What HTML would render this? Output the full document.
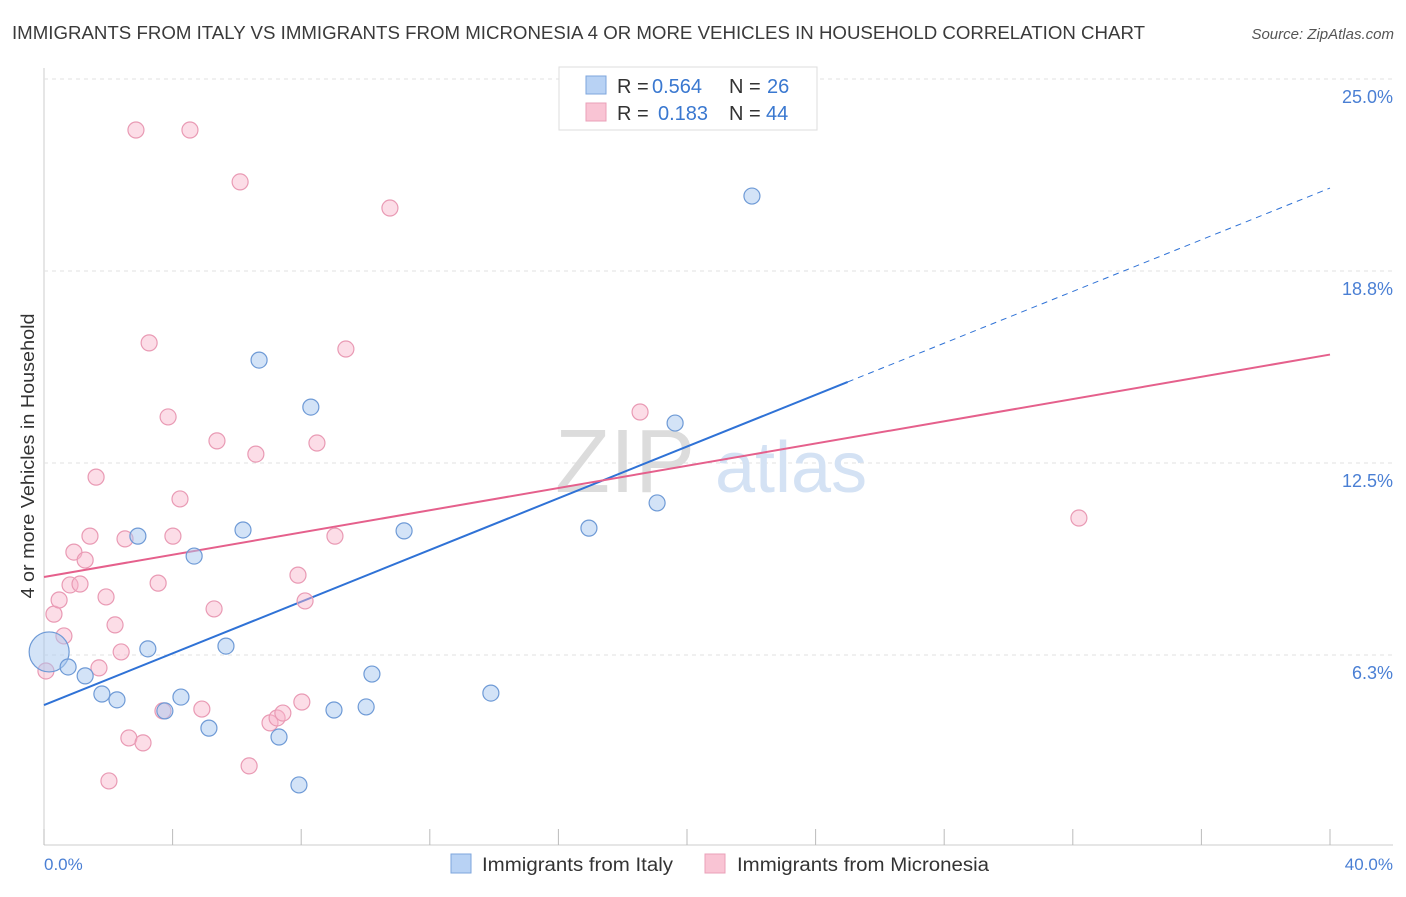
<!DOCTYPE html>
<html><head><meta charset="utf-8"><style>
body{margin:0;background:#fff;font-family:"Liberation Sans",Arial,sans-serif}
svg text{font-family:"Liberation Sans",Arial,sans-serif}
</style></head><body>
<svg id="chart" width="1406" height="892" viewBox="0 0 1406 892" xmlns="http://www.w3.org/2000/svg">
<text x="12" y="39" font-size="18" fill="#3a3a3a" textLength="1133" lengthAdjust="spacingAndGlyphs">IMMIGRANTS FROM ITALY VS IMMIGRANTS FROM MICRONESIA 4 OR MORE VEHICLES IN HOUSEHOLD CORRELATION CHART</text>
<text x="1394" y="39" font-size="15" fill="#555" text-anchor="end" font-style="italic">Source: ZipAtlas.com</text>
<g id="grid"></g>
<text x="555" y="492" font-size="90" fill="#dcdcdc" font-family="Liberation Serif">ZIP</text>
<text x="715" y="492" font-size="72" fill="#d4e2f4">atlas</text>
<g id="trends"></g>
<g id="points"></g>
<text transform="translate(34,456) rotate(-90)" font-size="18" fill="#333" text-anchor="middle" textLength="285" lengthAdjust="spacingAndGlyphs">4 or more Vehicles in Household</text>
<text x="44" y="870" font-size="17" fill="#4a7fd4">0.0%</text>
<text x="1393" y="870" font-size="17" fill="#4a7fd4" text-anchor="end">40.0%</text>
<g>
<rect x="559" y="67" width="258" height="63" fill="#fff" stroke="#ddd"/>
<rect x="586" y="76" width="20" height="18" fill="#b8d2f4" stroke="#7ea6dc"/>
<rect x="586" y="103" width="20" height="18" fill="#f9c4d4" stroke="#eaa0b8"/>
<text x="617" y="93" font-size="20" fill="#333">R =</text>
<text x="652" y="93" font-size="20" fill="#3a78d0">0.564</text>
<text x="729" y="93" font-size="20" fill="#333">N =</text>
<text x="767" y="93" font-size="20" fill="#3a78d0">26</text>
<text x="617" y="120" font-size="20" fill="#333">R =</text>
<text x="658" y="120" font-size="20" fill="#3a78d0">0.183</text>
<text x="729" y="120" font-size="20" fill="#333">N =</text>
<text x="766" y="120" font-size="20" fill="#3a78d0">44</text>
</g>
<g>
<rect x="451" y="854" width="20" height="19" fill="#b8d2f4" stroke="#7ea6dc"/>
<text x="482" y="871" font-size="19" fill="#333" textLength="191" lengthAdjust="spacingAndGlyphs">Immigrants from Italy</text>
<rect x="705" y="854" width="20" height="19" fill="#f9c4d4" stroke="#eaa0b8"/>
<text x="737" y="871" font-size="19" fill="#333" textLength="252" lengthAdjust="spacingAndGlyphs">Immigrants from Micronesia</text>
</g>
</svg>
<script>
const yTicks=[6.3,12.5,18.8,25.0];
const xTickCount=10;
const italyX=[0.16,0.75,1.28,1.80,2.27,2.92,3.23,3.76,4.26,4.67,5.13,5.66,6.19,6.69,7.31,7.93,8.30,9.02,10.02,10.20,11.20,13.90,16.95,19.07,19.63,22.02];
const italyY=[6.35,5.86,5.57,4.98,4.79,10.12,6.45,4.43,4.88,9.47,3.87,6.54,10.32,15.85,3.58,2.02,14.32,4.46,4.56,5.63,10.29,5.01,10.38,11.20,13.80,21.19];
const microX=[0.06,0.31,0.47,0.62,0.81,0.93,1.12,1.28,1.43,1.62,1.71,1.93,2.02,2.21,2.40,2.52,2.64,2.86,3.08,3.27,3.55,3.70,3.86,4.01,4.23,4.54,4.91,5.29,5.38,6.10,6.38,6.59,7.03,7.25,7.43,7.90,8.02,8.12,8.49,9.05,9.39,10.76,18.54,32.19];
const microY=[5.73,7.58,8.04,6.87,8.53,9.60,8.56,9.34,10.12,12.04,5.83,8.14,2.15,7.23,6.35,10.03,3.55,23.34,3.39,16.41,8.59,4.43,14.00,10.12,11.33,23.34,4.49,7.75,13.22,21.65,2.64,12.79,4.04,4.20,4.36,8.85,4.72,8.01,13.15,10.12,16.21,20.80,14.16,10.71];
const italyTrend=[4.62,21.45];
const microTrend=[8.79,16.03];
const NS="http://www.w3.org/2000/svg";
const X=v=>44+v*(1286/40), Y=v=>847-v*30.72;
function mk(tag,attrs,parent){const e=document.createElementNS(NS,tag);for(const k in attrs)e.setAttribute(k,attrs[k]);parent.appendChild(e);return e;}
const grid=document.getElementById('grid');
mk('line',{x1:44,y1:845,x2:1393,y2:845,stroke:'#ccc'},grid);
mk('line',{x1:44,y1:68,x2:44,y2:845,stroke:'#ccc'},grid);
mk('line',{x1:44,y1:79,x2:1393,y2:79,stroke:'#e2e2e2','stroke-dasharray':'4,4'},grid);
yTicks.forEach(t=>{
 const y=Y(t>24?25:t*(t===6.3?6.25/6.3:t===18.8?18.75/18.8:1));
 const l=mk('line',{x1:44,y1:y,x2:1393,y2:y,stroke:'#e2e2e2','stroke-dasharray':'4,4'},grid);
 
 
 const tx=mk('text',{x:1393,y:y+24,'font-size':18,fill:'#4a7fd4','text-anchor':'end'},grid);
 tx.textContent=t.toFixed(1)+'%';
 
 
});
for(let i=0;i<=xTickCount;i++){
 const x=X(i*40/xTickCount);
 const l=mk('line',{x1:x,y1:829,x2:x,y2:845,stroke:'#bbb'},grid);
 
 
}
const tr=document.getElementById('trends');
const xs=25.0;
let b=mk('line',{x1:X(0),y1:Y(italyTrend[0]),x2:X(xs),y2:Y(italyTrend[0]+(italyTrend[1]-italyTrend[0])*xs/40),stroke:'#2f72d6','stroke-width':2},tr);


b=mk('line',{x1:X(xs),y1:Y(italyTrend[0]+(italyTrend[1]-italyTrend[0])*xs/40),x2:X(40),y2:Y(italyTrend[1]),stroke:'#2f72d6','stroke-width':1,'stroke-dasharray':'6,5'},tr);


b=mk('line',{x1:X(0),y1:Y(microTrend[0]),x2:X(40),y2:Y(microTrend[1]),stroke:'#e5608c','stroke-width':2},tr);


const pts=document.getElementById('points');
microX.forEach((v,i)=>{
 const c=mk('circle',{cx:X(v),cy:Y(microY[i]),r:8,fill:'rgba(248,180,202,0.45)',stroke:'#e99ab4','stroke-width':1.2},pts);
 
 
});
italyX.forEach((v,i)=>{
 const c=mk('circle',{cx:X(v),cy:Y(italyY[i]),r:i===0?20:8,fill:'rgba(168,200,240,0.5)',stroke:'#6e9ad6','stroke-width':1.2},pts);
 
 
});
</script>
</body></html>
